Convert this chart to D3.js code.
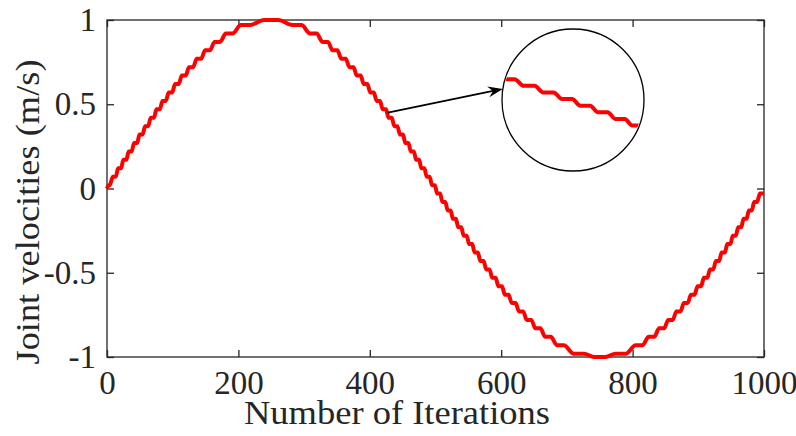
<!DOCTYPE html>
<html>
<head>
<meta charset="utf-8">
<script src="https://cdn.jsdelivr.net/npm/d3@7"></script>
<style>
  html, body { margin: 0; padding: 0; background: #ffffff; }
  svg { display: block; }
  text { font-family: "Liberation Serif", "Times New Roman", serif; fill: #262626; }
</style>
</head>
<body>
<svg id="chart" width="796" height="436"></svg>
<script>
// ---- data ----
const xTicks = [0, 200, 400, 600, 800, 1000];
const yTicks = [-1, -0.5, 0, 0.5, 1];
const yTickLabels = ["-1", "-0.5", "0", "0.5", "1"];
const xLabel = "Number of Iterations";
const yLabel = "Joint velocities (m/s)";

// centres of the small plateaus of the stair-like velocity curve
const plateauIter = [0, 3.18, 11.15, 19.14, 27.19, 35.30, 43.51, 51.84, 60.32, 68.98, 77.87, 87.03, 96.54,
  106.43, 116.82, 127.93, 139.86, 152.99, 167.94, 185.91, 210.92, 250,
  289.08, 314.09, 332.06, 347.01, 360.14, 372.07, 383.18, 393.57, 403.46, 412.97, 422.13, 431.02,
  439.68, 448.16, 456.49, 464.70, 472.81, 480.86, 488.85, 496.82,
  504.78, 512.75, 520.75, 528.81, 536.94, 545.17, 553.52, 562.03, 570.73, 579.68, 588.90, 598.47,
  608.48, 619.01, 630.23, 642.38, 655.83, 671.22, 690.10, 718.12, 750,
  781.88, 809.90, 828.78, 844.17, 857.62, 869.77, 880.99, 891.52, 901.53, 911.10, 920.32, 929.27,
  937.97, 946.48, 954.83, 963.06, 971.19, 979.25, 987.25, 995.22, 1000];
const plateauVel = [0, 0.02, 0.07, 0.12, 0.17, 0.22, 0.27, 0.32, 0.37, 0.42, 0.47, 0.52, 0.57,
  0.62, 0.67, 0.72, 0.77, 0.82, 0.87, 0.92, 0.97, 1.0,
  0.97, 0.92, 0.87, 0.82, 0.77, 0.72, 0.67, 0.62, 0.57, 0.52, 0.47, 0.42,
  0.37, 0.32, 0.27, 0.22, 0.17, 0.12, 0.07, 0.02,
  -0.03, -0.08, -0.13, -0.18, -0.23, -0.28, -0.33, -0.38, -0.43, -0.48, -0.53, -0.58,
  -0.63, -0.68, -0.73, -0.78, -0.83, -0.88, -0.93, -0.98, -1.0,
  -0.98, -0.93, -0.88, -0.83, -0.78, -0.73, -0.68, -0.63, -0.58, -0.53, -0.48, -0.43,
  -0.38, -0.33, -0.28, -0.23, -0.18, -0.13, -0.08, -0.03, -0.03];

// zoomed inset window (iterations / velocity) and arrow anchor on the curve
const insetIterRange = [390.6, 456.5];
const insetVelRange = [-0.067, 0.993];
const arrowFrom = { iter: 427.5, vel: 0.45 };

// ---- layout ----
const W = 796, H = 436;
const plot = { left: 107, right: 764, top: 20, bottom: 357 };
const axisColor = "#262626";
const fontSize = 33;

const svg = d3.select("#chart");
const x = d3.scaleLinear().domain([0, 1000]).range([plot.left, plot.right]);
const y = d3.scaleLinear().domain([-1, 1]).range([plot.bottom, plot.top]);

// build stair points: each plateau is a short flat piece
function stairPoints() {
  const pts = [];
  const n = plateauIter.length;
  for (let i = 0; i < n; i++) {
    const t = plateauIter[i], v = plateauVel[i];
    if (i === 0 || i === n - 1) { pts.push([t, v]); continue; }
    const g = Math.min(t - plateauIter[i - 1], plateauIter[i + 1] - t);
    const d = 0.28 * g;
    pts.push([t - d, v]);
    pts.push([t + d, v]);
  }
  return pts;
}
const pts = stairPoints();

// axes box
svg.append("rect")
  .attr("x", plot.left).attr("y", plot.top)
  .attr("width", plot.right - plot.left).attr("height", plot.bottom - plot.top)
  .attr("fill", "none").attr("stroke", axisColor).attr("stroke-width", 1.3);

const tickLen = 7;
function styleAxis(g) {
  g.select(".domain").remove();
  g.selectAll(".tick line").attr("stroke", axisColor).attr("stroke-width", 1.3);
  g.selectAll(".tick text").attr("font-size", fontSize).attr("font-family", "Liberation Serif, serif").attr("fill", axisColor);
}

svg.append("g").attr("transform", `translate(0,${plot.bottom})`)
  .call(d3.axisBottom(x).tickValues(xTicks).tickSizeInner(-tickLen).tickSizeOuter(0).tickPadding(14).tickFormat(d3.format("d")))
  .call(styleAxis);
svg.append("g").attr("transform", `translate(0,${plot.top})`)
  .call(d3.axisTop(x).tickValues(xTicks).tickSizeInner(-tickLen).tickSizeOuter(0).tickFormat(""))
  .call(styleAxis);
svg.append("g").attr("transform", `translate(${plot.left},0)`)
  .call(d3.axisLeft(y).tickValues(yTicks).tickSizeInner(-tickLen).tickSizeOuter(0).tickPadding(11)
    .tickFormat((d, i) => yTickLabels[yTicks.indexOf(d)]))
  .call(styleAxis);
svg.append("g").attr("transform", `translate(${plot.right},0)`)
  .call(d3.axisRight(y).tickValues(yTicks).tickSizeInner(-tickLen).tickSizeOuter(0).tickFormat(""))
  .call(styleAxis);

// axis labels
svg.append("text")
  .attr("x", 397).attr("y", 424)
  .attr("text-anchor", "middle").attr("font-size", fontSize)
  .attr("textLength", 306).attr("lengthAdjust", "spacingAndGlyphs")
  .text(xLabel);
svg.append("text")
  .attr("transform", "translate(39,212) rotate(-90)")
  .attr("text-anchor", "middle").attr("font-size", fontSize)
  .attr("textLength", 305).attr("lengthAdjust", "spacingAndGlyphs")
  .text(yLabel);

// main curve
const line = d3.line().x(d => x(d[0])).y(d => y(d[1])).curve(d3.curveMonotoneX);
svg.append("path").datum(pts)
  .attr("d", line)
  .attr("fill", "none").attr("stroke", "#ff0000").attr("stroke-width", 4)
  .attr("stroke-linejoin", "round");

// inset circle (magnifier)
const circ = { cx: 573, cy: 100, r: 71 };
svg.append("clipPath").attr("id", "insetClip")
  .append("circle").attr("cx", circ.cx).attr("cy", circ.cy).attr("r", circ.r - 1);
const xi = d3.scaleLinear().domain(insetIterRange).range([503, 637]);
const yi = d3.scaleLinear().domain(insetVelRange).range([170, 30]);
svg.append("circle").attr("cx", circ.cx).attr("cy", circ.cy).attr("r", circ.r)
  .attr("fill", "#ffffff").attr("stroke", "#000000").attr("stroke-width", 1.3);
const lineI = d3.line().x(d => xi(d[0])).y(d => yi(d[1])).curve(d3.curveMonotoneX);
svg.append("path").datum(pts)
  .attr("d", lineI)
  .attr("clip-path", "url(#insetClip)")
  .attr("fill", "none").attr("stroke", "#ff0000").attr("stroke-width", 4)
  .attr("stroke-linejoin", "round");

// arrow
const ax0 = x(arrowFrom.iter), ay0 = y(arrowFrom.vel);
const ang = Math.PI * 189 / 180;
const ax1 = circ.cx + circ.r * Math.cos(ang), ay1 = circ.cy + circ.r * Math.sin(ang);
const theta = Math.atan2(ay1 - ay0, ax1 - ax0);
const headLen = 15, headHalf = 5.5, notch = 10;
svg.append("line")
  .attr("x1", ax0).attr("y1", ay0)
  .attr("x2", ax1 - notch * Math.cos(theta)).attr("y2", ay1 - notch * Math.sin(theta))
  .attr("stroke", "#000").attr("stroke-width", 1.8);
const hp = [
  [0, 0], [-headLen, -headHalf], [-notch, 0], [-headLen, headHalf]
].map(([u, v]) => [ax1 + u * Math.cos(theta) - v * Math.sin(theta), ay1 + u * Math.sin(theta) + v * Math.cos(theta)]);
svg.append("path")
  .attr("d", "M" + hp.map(p => p.join(",")).join("L") + "Z")
  .attr("fill", "#000");
</script>
</body>
</html>
